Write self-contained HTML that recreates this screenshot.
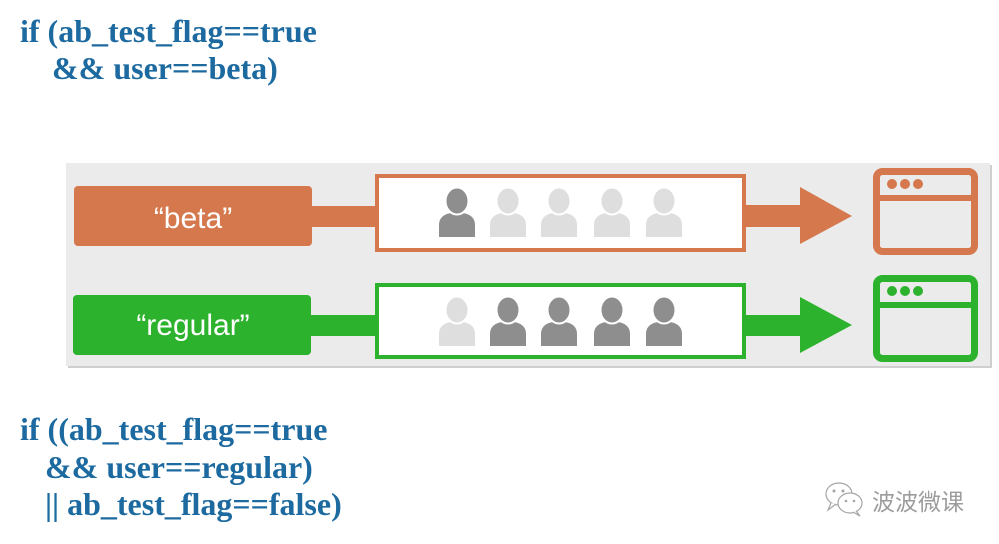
<!DOCTYPE html>
<html>
<head>
<meta charset="utf-8">
<style>
  html,body{margin:0;padding:0;background:#fff;}
  body{width:999px;height:544px;overflow:hidden;position:relative;}
  svg{position:absolute;left:0;top:0;}
</style>
</head>
<body>
<svg width="999" height="544" viewBox="0 0 999 544" xmlns="http://www.w3.org/2000/svg">
  <defs>
    <g id="u">
      <path d="M1,49 L1,37 C1,29 7,26 13,25 L25,25 C31,26 37,29 37,37 L37,49 Z"/>
      <ellipse cx="19" cy="13" rx="11.5" ry="13.5" stroke="#fff" stroke-width="2"/>
    </g>
  </defs>

  <!-- code text -->
  <g font-family="'Liberation Serif', serif" font-weight="bold" font-size="32" fill="#1c6a9f">
    <text x="20" y="42">if (ab_test_flag==true</text>
    <text x="52" y="79">&amp;&amp; user==beta)</text>
    <text x="20" y="440">if ((ab_test_flag==true</text>
    <text x="45" y="478">&amp;&amp; user==regular)</text>
    <text x="45" y="515">|| ab_test_flag==false)</text>
  </g>

  <!-- panel with shadow -->
  <rect x="68" y="165" width="924" height="203" fill="#cfcfcf"/>
  <rect x="66" y="163" width="924" height="203" fill="#ebebeb"/>

  <!-- beta row -->
  <rect x="74" y="186" width="238" height="60" rx="4" fill="#d5784d"/>
  <text x="193" y="228" text-anchor="middle" font-family="'Liberation Sans', sans-serif" font-size="30" fill="#fff">“beta”</text>
  <rect x="310" y="206" width="68" height="21" fill="#d5784d"/>
  <rect x="377" y="176" width="367" height="74" fill="#fff" stroke="#d5784d" stroke-width="4"/>
  <rect x="744" y="205" width="58" height="22" fill="#d5784d"/>
  <polygon points="800,187 852,216 800,244" fill="#d5784d"/>
  <g transform="translate(438,188)" fill="#8e8e8e"><use href="#u"/></g>
  <g transform="translate(489,188)" fill="#dedede"><use href="#u"/></g>
  <g transform="translate(540,188)" fill="#dedede"><use href="#u"/></g>
  <g transform="translate(593,188)" fill="#dedede"><use href="#u"/></g>
  <g transform="translate(645,188)" fill="#dedede"><use href="#u"/></g>
  <rect x="876.5" y="171.5" width="98" height="80" rx="6" fill="none" stroke="#d5784d" stroke-width="7"/>
  <rect x="876" y="195" width="99" height="6" fill="#d5784d"/>
  <circle cx="892" cy="184" r="5" fill="#d5784d"/>
  <circle cx="905" cy="184" r="5" fill="#d5784d"/>
  <circle cx="918" cy="184" r="5" fill="#d5784d"/>

  <!-- regular row -->
  <rect x="73" y="295" width="238" height="60" rx="4" fill="#2db22d"/>
  <text x="193" y="335" text-anchor="middle" font-family="'Liberation Sans', sans-serif" font-size="30" fill="#fff">“regular”</text>
  <rect x="309" y="315" width="69" height="21" fill="#2db22d"/>
  <rect x="377" y="285" width="367" height="72" fill="#fff" stroke="#2db22d" stroke-width="4"/>
  <rect x="744" y="315" width="58" height="21" fill="#2db22d"/>
  <polygon points="800,297 852,325 800,353" fill="#2db22d"/>
  <g transform="translate(438,297)" fill="#dedede"><use href="#u"/></g>
  <g transform="translate(489,297)" fill="#8e8e8e"><use href="#u"/></g>
  <g transform="translate(540,297)" fill="#8e8e8e"><use href="#u"/></g>
  <g transform="translate(593,297)" fill="#8e8e8e"><use href="#u"/></g>
  <g transform="translate(645,297)" fill="#8e8e8e"><use href="#u"/></g>
  <rect x="876.5" y="278.5" width="98" height="80" rx="6" fill="none" stroke="#2db22d" stroke-width="7"/>
  <rect x="876" y="302" width="99" height="6" fill="#2db22d"/>
  <circle cx="892" cy="291" r="5" fill="#2db22d"/>
  <circle cx="905" cy="291" r="5" fill="#2db22d"/>
  <circle cx="918" cy="291" r="5" fill="#2db22d"/>

  <!-- watermark -->
  <g fill="#fff" stroke="#a5a5a5" stroke-width="1.2">
    <ellipse cx="839" cy="494" rx="13" ry="11"/>
    <path d="M831,503 L828,510 L836,504" />
    <ellipse cx="850" cy="503" rx="12" ry="10"/>
    <path d="M856,511 L860,516 L853,512"/>
  </g>
  <g fill="#a5a5a5">
    <circle cx="834" cy="491" r="1.5"/><circle cx="843" cy="491" r="1.5"/>
    <circle cx="846" cy="501" r="1.3"/><circle cx="854" cy="501" r="1.3"/>
  </g>
  <text x="872" y="510" font-family="'Noto Sans CJK SC', 'WenQuanYi Zen Hei', sans-serif" font-size="23" fill="#9c9c9c">波波微课</text>
</svg>
</body>
</html>
